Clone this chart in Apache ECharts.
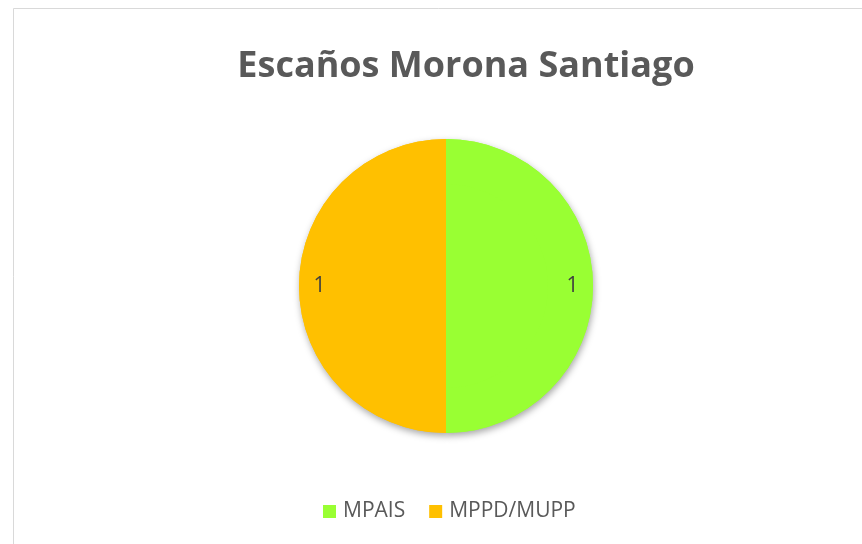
<!DOCTYPE html>
<html>
<head>
<meta charset="utf-8">
<title>Escaños Morona Santiago</title>
<script src="https://cdn.jsdelivr.net/npm/echarts@6/dist/echarts.min.js"></script>
<style>
    html, body { margin: 0; padding: 0; background: #fff; }
    #seats_pie { width: 862px; height: 544px; }
</style>
</head>
<body>
<div id="seats_pie"></div>
<script>
// Chart data
// ------------------------------

var chartTitle = 'Escaños Morona Santiago';
var parties = ['MPAIS', 'MPPD/MUPP'];
var seats = [1, 1];
var partyColors = ['#99FF33', '#FFC000'];


// Setup chart
// ------------------------------

var pie_element = document.getElementById('seats_pie');
var seats_pie = echarts.init(pie_element);

var pieData = parties.map(function(name, i) {
    return { name: name, value: seats[i] };
});

var fontStack = '"Open Sans", "Noto Sans", sans-serif';
var pieCenter = [446, 286];

seats_pie.setOption({

    color: partyColors,
    animation: false,

    textStyle: {
        fontFamily: fontStack
    },

    // Chart frame
    graphic: [{
        type: 'rect',
        z: -10,
        shape: { x: 13.5, y: 8.5, width: 900, height: 600 },
        style: { fill: '#fff', stroke: '#d9d9d9', lineWidth: 1 }
    }],

    title: {
        text: chartTitle,
        left: 461,
        textAlign: 'center',
        top: 44,
        textStyle: {
            fontFamily: fontStack,
            fontSize: 36,
            fontWeight: 'bold',
            color: '#595959'
        }
    },

    legend: {
        data: parties,
        left: 318,
        bottom: 17,
        itemWidth: 13,
        itemHeight: 13,
        itemGap: 24,
        icon: 'rect',
        textStyle: {
            fontFamily: fontStack,
            fontSize: 21,
            color: '#595959',
            padding: [0, 0, 0, 2]
        }
    },

    series: [
        // Back disc only casts the drop shadow
        {
            type: 'pie',
            center: pieCenter,
            radius: [0, 147],
            startAngle: 90,
            silent: true,
            legendHoverLink: false,
            data: pieData,
            itemStyle: {
                shadowBlur: 7,
                shadowOffsetX: 1,
                shadowOffsetY: 3,
                shadowColor: 'rgba(0,0,0,0.35)'
            },
            label: { show: false },
            labelLine: { show: false }
        },
        // Outer ring carries the value labels near the edge
        {
            type: 'pie',
            center: pieCenter,
            radius: [100, 147],
            startAngle: 90,
            silent: true,
            data: pieData,
            label: {
                show: true,
                position: 'inside',
                formatter: '{c}',
                fontFamily: fontStack,
                fontSize: 21,
                color: '#404040'
            },
            labelLine: { show: false }
        },
        // Inner fill so the pie reads as a solid disc
        {
            type: 'pie',
            center: pieCenter,
            radius: [0, 102],
            startAngle: 90,
            silent: true,
            legendHoverLink: false,
            data: pieData,
            label: { show: false },
            labelLine: { show: false }
        }
    ]
});
</script>
</body>
</html>
